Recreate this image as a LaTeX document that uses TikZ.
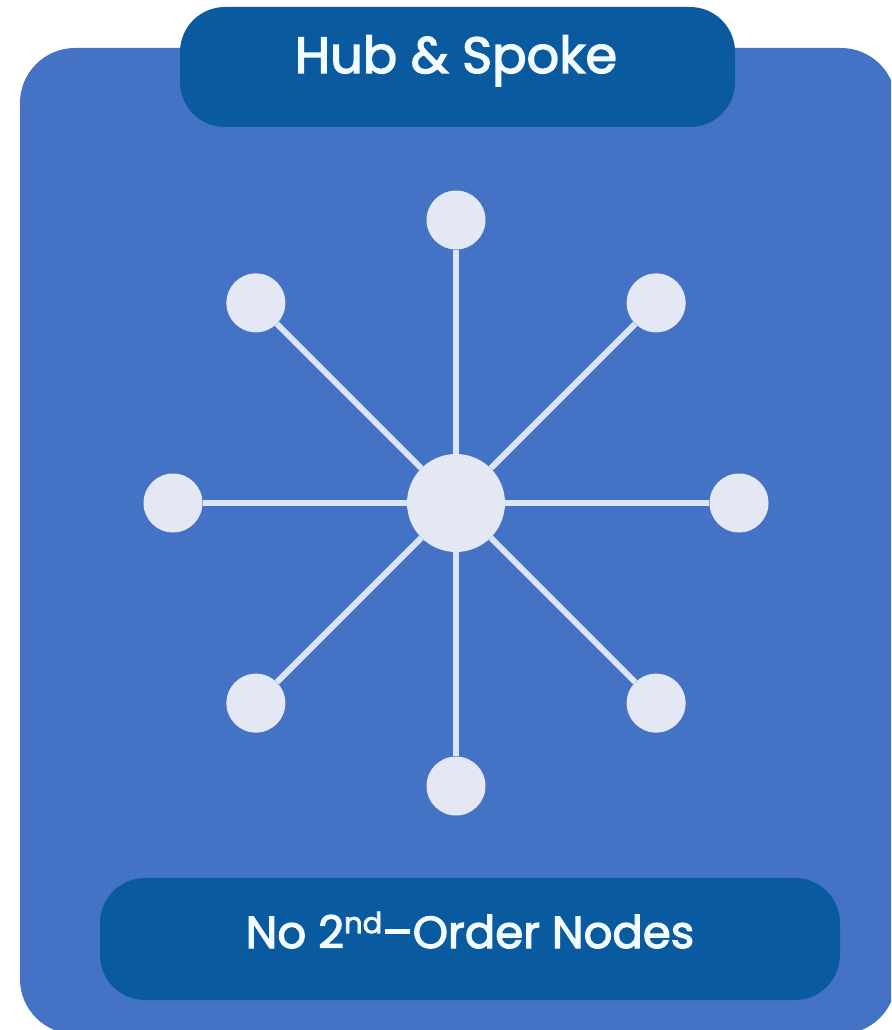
\documentclass[tikz,border=0pt]{standalone}
\usepackage{fontspec}
\setmainfont{Poppins}
\newfontfamily\badgefont{Poppins}[FakeBold=2.6]
\usetikzlibrary{calc}
\definecolor{panelblue}{HTML}{4472C4}
\definecolor{badgeblue}{HTML}{0A5AA0}
\definecolor{dotfill}{HTML}{E3E8F4}
\definecolor{spokeline}{HTML}{DCE6F6}
\definecolor{labeltext}{HTML}{F2FBFF}
\tikzset{
  badge/.style={fill=badgeblue, rounded corners=45pt, inner sep=0pt},
  badgetext/.style={text=labeltext, inner sep=0pt, anchor=base, font=\badgefont},
  hubdot/.style={circle, fill=dotfill, minimum size=98pt, inner sep=0pt},
  leafdot/.style={circle, fill=dotfill, minimum size=59pt, inner sep=0pt},
  spoke/.style={draw=spokeline, line width=6pt}
}
\begin{document}
\begin{tikzpicture}[x=1pt,y=-1pt]
\useasboundingbox (0,0) rectangle (891,1030);
\clip (0,0) rectangle (891,1030);
\fill[white] (0,0) rectangle (891,1030);
% main panel
\fill[panelblue, rounded corners=55pt] (20,48) rectangle (896,1034);
% title and footer badges
\node[badge, minimum width=555pt, minimum height=120pt] (title) at (457.5,67) {};
\node[badgetext] (titletext) at (456,73)
  {\fontsize{51}{60}\selectfont Hub \& Spoke};
\node[badge, minimum width=740pt, minimum height=122pt] (footer) at (470,939) {};
\node[badgetext] (footertext) at (470,948)
  {\fontsize{45}{54}\selectfont No 2\raisebox{0.33em}{\fontsize{29}{34}\selectfont nd}\textendash Order Nodes};
% hub and its eight spokes
\node[hubdot] (hub) at (456,503) {};
\foreach \a [count=\i] in {90,45,0,-45,-90,-135,180,135} {
  \node[leafdot] (n\i) at ($(hub)+(\a:283)$) {};
  \draw[spoke] (hub) -- (n\i);
}
\end{tikzpicture}
\end{document}
